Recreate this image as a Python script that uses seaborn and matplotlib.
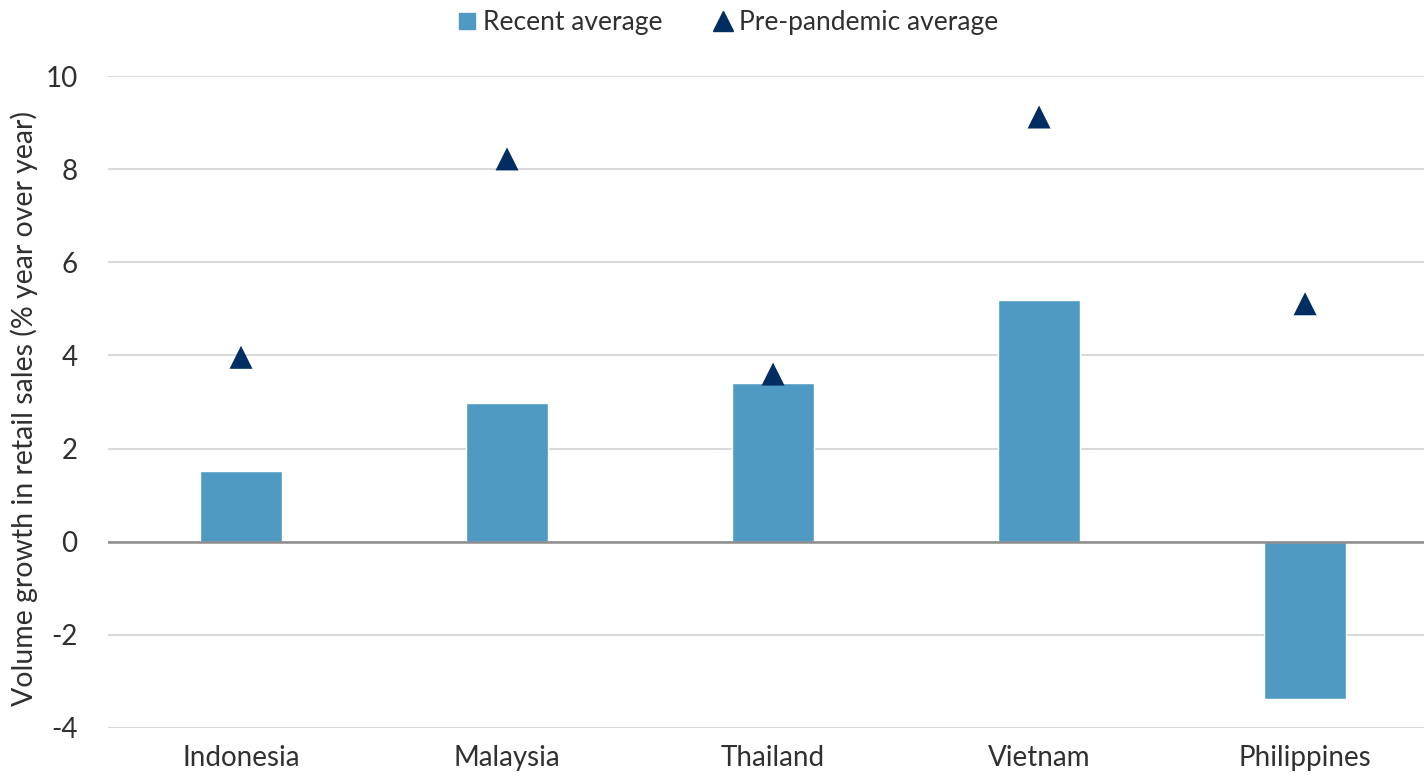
import matplotlib
matplotlib.use("Agg")
import matplotlib.pyplot as plt
from matplotlib.lines import Line2D
import seaborn as sns
import pandas as pd

countries = ["Indonesia", "Malaysia", "Thailand", "Vietnam", "Philippines"]
recent_avg = [1.52, 2.98, 3.40, 5.19, -3.37]
pre_pandemic_avg = [3.96, 8.22, 3.60, 9.12, 5.11]
y_ticks = [-4, -2, 0, 2, 4, 6, 8, 10]

bar_color = "#4F9AC2"
tri_color = "#002D62"
text_color = "#303030"

sns.set_theme(style="white")
plt.rcParams["font.family"] = ["Lato", "DejaVu Sans"]

df = pd.DataFrame({"country": countries, "recent": recent_avg, "pre": pre_pandemic_avg})

fig = plt.figure(figsize=(14.24, 7.78), dpi=100)
ax = fig.add_axes([108 / 1424, 50 / 778, 1316 / 1424, 652 / 778])

sns.barplot(data=df, x="country", y="recent", color=bar_color, width=0.31,
            saturation=1, ax=ax, zorder=2)
sns.scatterplot(data=df, x="country", y="pre", marker="^", s=275, color=tri_color,
                edgecolor="none", ax=ax, zorder=3)

ax.set_xlim(-0.5, 4.447)
ax.set_ylim(-4, 10)
ax.set_yticks(y_ticks)
ax.set_yticklabels([str(t) for t in y_ticks])
ax.yaxis.grid(True, color="#D9D9D9", linewidth=1.5, zorder=0)
ax.set_axisbelow(True)
ax.axhline(0, color="#8C8C8C", linewidth=1.8, zorder=2.5)
for s in ax.spines.values():
    s.set_visible(False)
ax.tick_params(axis="both", length=0, labelsize=20, colors=text_color)
ax.tick_params(axis="y", pad=22)
ax.tick_params(axis="x", pad=12)
ax.set_xlabel("")
ax.set_ylabel("Volume growth in retail sales (% year over year)", fontsize=20.5,
              color=text_color)
ax.yaxis.set_label_coords(-0.053, 0.49)

handles = [
    Line2D([], [], marker="s", linestyle="none", markersize=11, color=bar_color),
    Line2D([], [], marker="^", linestyle="none", markersize=15, color=tri_color),
]
fig.legend(handles, ["Recent average", "Pre-pandemic average"], loc="upper center",
           bbox_to_anchor=(0.51, 1.018), ncol=2, frameon=False, fontsize=19,
           handletextpad=0.1, columnspacing=1.8, handlelength=1.0,
           labelcolor=text_color)

fig.savefig("out.png", dpi=100)
